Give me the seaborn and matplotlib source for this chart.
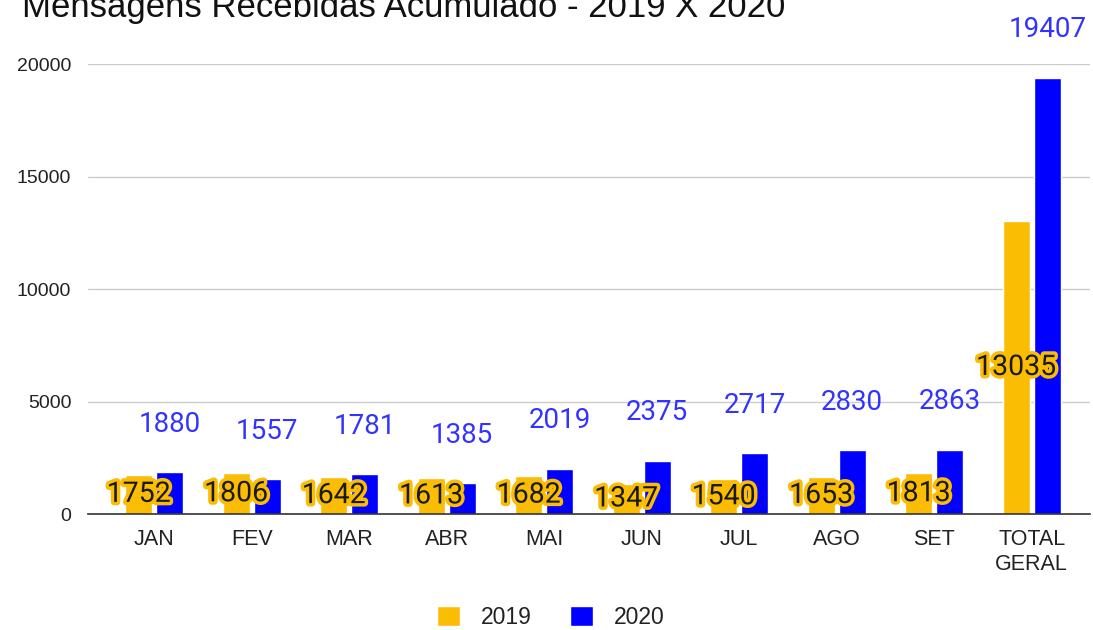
import matplotlib
matplotlib.use("Agg")
import matplotlib.pyplot as plt
import matplotlib.patheffects as pe
import seaborn as sns
import pandas as pd

months = ["JAN", "FEV", "MAR", "ABR", "MAI", "JUN", "JUL", "AGO", "SET", "TOTAL\nGERAL"]
vals_2019 = [1752, 1806, 1642, 1613, 1682, 1347, 1540, 1653, 1813, 13035]
vals_2020 = [1880, 1557, 1781, 1385, 2019, 2375, 2717, 2830, 2863, 19407]

YELLOW = "#FBBC04"
BLUE = "#0000FF"

df = pd.DataFrame({
    "mes": months * 2,
    "valor": vals_2019 + vals_2020,
    "ano": ["2019"] * len(months) + ["2020"] * len(months),
})

sns.set_theme(style="white")
plt.rcParams["font.family"] = ["Liberation Sans", "DejaVu Sans"]

fig = plt.figure(figsize=(10.93, 6.30), dpi=100)
ax = fig.add_axes([0.0805, 0.184, 0.917, 0.714])

sns.barplot(
    data=df, x="mes", y="valor", hue="ano",
    palette={"2019": YELLOW, "2020": BLUE},
    width=0.636, gap=0.13, saturation=1, ax=ax, legend=True,
)

ax.set_ylim(0, 20000)
ax.set_xlim(-0.68, 9.6)
ax.set_yticks([0, 5000, 10000, 15000, 20000])
ax.grid(axis="y", color="#cccccc", linewidth=1)
ax.set_axisbelow(True)
for s in ["top", "right", "left"]:
    ax.spines[s].set_visible(False)
ax.spines["bottom"].set_color("#333333")
ax.spines["bottom"].set_linewidth(1.2)
ax.tick_params(axis="both", length=0, colors="#222222")
ax.tick_params(axis="y", pad=12, labelsize=14)
ax.tick_params(axis="x", pad=11, labelsize=15.5)
ax.set_xlabel("")
ax.set_ylabel("")

# rótulos
bars19 = ax.containers[0]
bars20 = ax.containers[1]
for rect, v in zip(bars19, vals_2019):
    ax.text(rect.get_x() + rect.get_width() / 2, v / 2, str(v),
            ha="center", va="center", fontsize=20.5, color="#1a1a1a",
            family=["Roboto", "DejaVu Sans"], clip_on=False,
            path_effects=[pe.withStroke(linewidth=5, foreground=YELLOW)])
for rect, v in zip(bars20, vals_2020):
    ax.annotate(str(v), (rect.get_x() + rect.get_width() / 2, v),
                xytext=(0, 29), textcoords="offset points",
                ha="center", va="baseline", fontsize=20, color="#3333ff",
                family=["Roboto", "DejaVu Sans"], annotation_clip=False)

fig.text(0.02, 0.973, "Mensagens Recebidas Acumulado - 2019 X 2020",
         fontsize=25, color="#111111", ha="left", va="baseline")

ax.get_legend().remove()
handles, labels = ax.get_legend_handles_labels()
leg = fig.legend(handles, labels, loc="center", bbox_to_anchor=(0.504, 0.02),
                 ncol=2, frameon=False, fontsize=16.5, handlelength=1.0,
                 handleheight=1.0, columnspacing=1.7, handletextpad=0.9)
for t in leg.get_texts():
    t.set_color("#222222")

fig.savefig("out.png", dpi=100)
